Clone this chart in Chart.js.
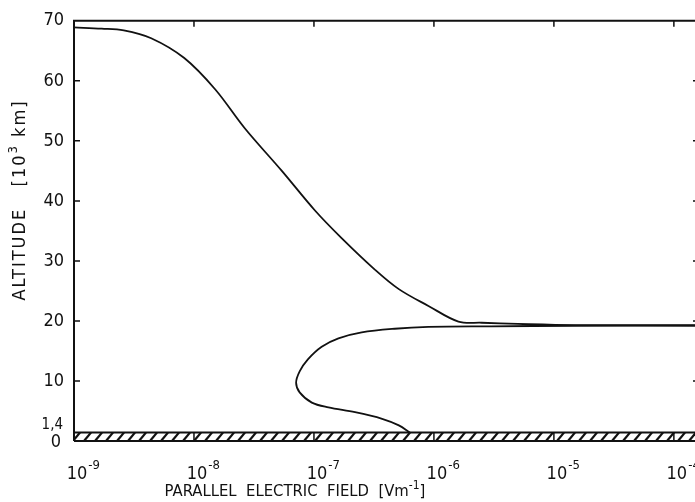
<!DOCTYPE html>
<html>
<head>
<meta charset="utf-8">
<script src="https://cdn.jsdelivr.net/npm/chart.js@4.4.0/dist/chart.umd.min.js"></script>
<style>
  html, body { margin: 0; padding: 0; background: #fff; }
  #wrap { width: 695px; height: 502px; position: relative; }
</style>
</head>
<body>
<div id="wrap"><canvas id="fieldChart"></canvas></div>
<script>
// upper branch: from the top left, down to the knee, then out to the right edge
const upperField = [1.0e-9, 1.7e-9, 2.6e-9, 4.4e-9, 8.3e-9, 1.5e-8, 2.65e-8, 5.4e-8, 1.02e-7, 1.7e-7, 3.2e-7, 5.1e-7, 9.0e-7, 1.6e-6, 2.5e-6, 5.0e-6, 1.5e-5, 1.5e-4];
const upperAlt = [68.9, 68.7, 68.4, 67.1, 63.8, 58.6, 52.1, 45.0, 38.4, 33.8, 28.6, 25.3, 22.5, 19.9, 19.7, 19.5, 19.3, 19.3];

// lower branch: from the right edge, round the nose, down to the ground
const lowerField = [1.5e-4, 1.5e-5, 3.0e-6, 9.0e-7, 4.7e-7, 2.5e-7, 1.6e-7, 1.16e-7, 8.9e-8, 7.6e-8, 7.1e-8, 7.6e-8, 9.6e-8, 1.32e-7, 2.2e-7, 3.7e-7, 5.1e-7, 6.3e-7];
const lowerAlt = [19.2, 19.2, 19.1, 19.0, 18.7, 18.1, 17.1, 15.7, 13.6, 11.6, 9.7, 8.1, 6.4, 5.6, 4.8, 3.7, 2.6, 1.4];

const altTicks = [10, 20, 30, 40, 50, 60, 70];
const decadeExps = [-9, -8, -7, -6, -5, -4];
const groundTop = 1.4; // hatched layer, 0 .. 1.4

const FONT = '"DejaVu Sans Condensed", "Liberation Sans Narrow", "DejaVu Sans", sans-serif';
const INK = '#111';

function toPoints(xs, ys) {
  return xs.map((x, i) => ({ x: x, y: ys[i] }));
}

// draws text pieces, some of them raised as superscripts
function drawRich(ctx, parts, x, y, size, supSize, align) {
  let total = 0;
  parts.forEach(p => {
    ctx.font = (p.sup ? supSize : size) + 'px ' + FONT;
    p.w = ctx.measureText(p.t).width;
    total += p.w;
  });
  let cx = align === 'center' ? x - total / 2 : x;
  parts.forEach(p => {
    ctx.font = (p.sup ? supSize : size) + 'px ' + FONT;
    ctx.fillText(p.t, cx, p.sup ? y - size * 0.45 : y);
    cx += p.w;
  });
}

const framePlugin = {
  id: 'frame',
  afterDatasetsDraw(chart) {
    const ctx = chart.ctx;
    const xs = chart.scales.x, ys = chart.scales.y;
    const area = chart.chartArea;
    const yTop = ys.getPixelForValue(groundTop);
    const yBot = ys.getPixelForValue(0);

    ctx.save();
    ctx.strokeStyle = INK;
    ctx.fillStyle = INK;

    // hatched ground layer
    ctx.save();
    ctx.beginPath();
    ctx.rect(area.left, yTop, area.right - area.left, yBot - yTop);
    ctx.clip();
    ctx.lineWidth = 2.2;
    for (let x = area.left - 12; x < area.right + 12; x += 11) {
      ctx.beginPath();
      ctx.moveTo(x, yBot);
      ctx.lineTo(x + 7, yTop);
      ctx.stroke();
    }
    ctx.restore();

    ctx.lineWidth = 2;
    ctx.beginPath();
    ctx.moveTo(area.left, yTop); ctx.lineTo(area.right, yTop);
    ctx.moveTo(area.left, yBot); ctx.lineTo(area.right, yBot);
    // left and top borders
    ctx.moveTo(area.left, yBot); ctx.lineTo(area.left, area.top);
    ctx.lineTo(area.right, area.top);
    ctx.stroke();

    // inward ticks
    ctx.lineWidth = 1.5;
    ctx.beginPath();
    altTicks.slice(0, -1).forEach(v => {
      const py = ys.getPixelForValue(v);
      ctx.moveTo(area.left, py); ctx.lineTo(area.left + 6, py);
      ctx.moveTo(area.right, py); ctx.lineTo(area.right - 2, py);
    });
    decadeExps.forEach(e => {
      const px = xs.getPixelForValue(Math.pow(10, e));
      if (e > -9) {
        ctx.moveTo(px, area.top); ctx.lineTo(px, area.top + 6);
        ctx.moveTo(px, yBot); ctx.lineTo(px, yTop);
      }
    });
    ctx.stroke();

    // x tick labels 10^n
    ctx.textBaseline = 'alphabetic';
    ctx.textAlign = 'left';
    decadeExps.forEach(e => {
      const px = xs.getPixelForValue(Math.pow(10, e));
      ctx.font = '18px ' + FONT;
      const w = ctx.measureText('10').width;
      const left = px + 3 - w / 2;
      ctx.fillText('10', left, 479);
      ctx.font = '13px ' + FONT;
      ctx.fillText('-' + Math.abs(e), left + w + 1, 469);
    });

    // the two crowded labels at the bottom of the altitude axis
    ctx.textAlign = 'right';
    ctx.textBaseline = 'middle';
    ctx.font = '15px ' + FONT;
    ctx.fillText('1,4', 63, yTop - 7);
    ctx.font = '18px ' + FONT;
    ctx.fillText('0', 61, yBot + 1);

    // axis titles
    ctx.textAlign = 'left';
    ctx.textBaseline = 'alphabetic';
    drawRich(ctx, [
      { t: 'PARALLEL  ELECTRIC  FIELD  [Vm' },
      { t: '-1', sup: true },
      { t: ']' }
    ], 295, 496, 16.5, 12, 'center');

    ctx.letterSpacing = '2px';
    ctx.translate(25, 200);
    ctx.rotate(-Math.PI / 2);
    drawRich(ctx, [
      { t: 'ALTITUDE   [10' },
      { t: '3', sup: true },
      { t: ' km]' }
    ], 0, 0, 18, 13, 'center');
    ctx.restore();
  }
};

const ctx = document.getElementById('fieldChart').getContext('2d');
new Chart(ctx, {
  type: 'scatter',
  data: {
    datasets: [
      {
        label: 'upper',
        data: toPoints(upperField, upperAlt),
        showLine: true,
        borderColor: INK,
        borderWidth: 1.8,
        pointRadius: 0,
        tension: 0.35
      },
      {
        label: 'lower',
        data: toPoints(lowerField, lowerAlt),
        showLine: true,
        borderColor: INK,
        borderWidth: 1.8,
        pointRadius: 0,
        tension: 0.35
      }
    ]
  },
  options: {
    responsive: true,
    maintainAspectRatio: false,
    animation: false,
    devicePixelRatio: 1,
    layout: { padding: { top: 14, left: 0, right: 0, bottom: 0 } },
    plugins: { legend: { display: false }, tooltip: { enabled: false } },
    scales: {
      x: {
        type: 'logarithmic',
        min: 1e-9,
        max: 1.5e-4,
        afterFit: axis => { axis.height = 61; },
        grid: { display: false, drawTicks: false },
        border: { display: false },
        ticks: { display: false }
      },
      y: {
        type: 'linear',
        min: 0,
        max: 70,
        afterBuildTicks: axis => { axis.ticks = altTicks.map(v => ({ value: v })); },
        afterFit: axis => { axis.width = 74; },
        grid: { display: false, drawTicks: false },
        border: { display: false },
        ticks: { color: INK, padding: 10, font: { family: FONT, size: 18 } }
      }
    }
  },
  plugins: [framePlugin]
});
</script>
</body>
</html>
